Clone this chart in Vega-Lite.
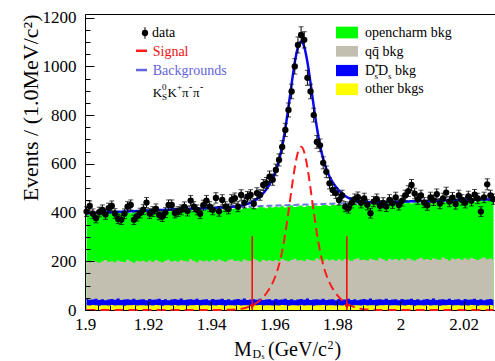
{
"$schema":"https://vega.github.io/schema/vega-lite/v6.json",
"width":412,"height":296,"autosize":"none",
"padding":{"left":85,"top":14,"right":0,"bottom":51},
"background":"white",
"config":{"view":{"stroke":"black","strokeWidth":1},"font":"Liberation Serif"},
"resolve":{"axis":{"x":"independent","y":"independent"}},
"data":{"values":[
{"m":1.9005,"n":404,"e":20.1,"oc":393,"qq":201,"ds":45,"ot":20,"b":397.0,"s":0,"f":397.0},
{"m":1.9015,"n":427,"e":20.7,"oc":391,"qq":196,"ds":42,"ot":18,"b":397.6,"s":0,"f":397.6},
{"m":1.9025,"n":395,"e":19.9,"oc":396,"qq":203,"ds":43,"ot":21,"b":398.2,"s":0,"f":398.2},
{"m":1.9035,"n":377,"e":19.4,"oc":390,"qq":198,"ds":46,"ot":19,"b":398.8,"s":0,"f":398.8},
{"m":1.9045,"n":402,"e":20.0,"oc":394,"qq":194,"ds":41,"ot":17,"b":399.4,"s":0,"f":399.4},
{"m":1.9055,"n":411,"e":20.3,"oc":399,"qq":200,"ds":44,"ot":20,"b":400.0,"s":0,"f":400.0},
{"m":1.9065,"n":392,"e":19.8,"oc":393,"qq":205,"ds":40,"ot":19,"b":400.6,"s":0,"f":400.6},
{"m":1.9075,"n":418,"e":20.4,"oc":395,"qq":198,"ds":43,"ot":18,"b":401.1,"s":0,"f":401.1},
{"m":1.9085,"n":427,"e":20.7,"oc":399,"qq":200,"ds":45,"ot":21,"b":401.7,"s":0,"f":401.7},
{"m":1.9095,"n":396,"e":19.9,"oc":392,"qq":196,"ds":42,"ot":18,"b":402.3,"s":0,"f":402.3},
{"m":1.9105,"n":374,"e":19.3,"oc":399,"qq":203,"ds":47,"ot":19,"b":402.9,"s":0,"f":402.9},
{"m":1.9115,"n":370,"e":19.2,"oc":397,"qq":199,"ds":41,"ot":20,"b":403.5,"s":0,"f":403.5},
{"m":1.9125,"n":395,"e":19.9,"oc":404,"qq":197,"ds":43,"ot":17,"b":404.0,"s":0,"f":404.0},
{"m":1.9135,"n":424,"e":20.6,"oc":399,"qq":206,"ds":44,"ot":20,"b":404.6,"s":0,"f":404.6},
{"m":1.9145,"n":431,"e":20.8,"oc":397,"qq":200,"ds":42,"ot":19,"b":405.2,"s":0,"f":405.2},
{"m":1.9155,"n":370,"e":19.2,"oc":403,"qq":194,"ds":46,"ot":21,"b":405.7,"s":0,"f":405.7},
{"m":1.9165,"n":385,"e":19.6,"oc":401,"qq":202,"ds":41,"ot":18,"b":406.3,"s":0,"f":406.3},
{"m":1.9175,"n":398,"e":19.9,"oc":398,"qq":199,"ds":43,"ot":19,"b":406.9,"s":0,"f":406.9},
{"m":1.9185,"n":412,"e":20.3,"oc":405,"qq":202,"ds":44,"ot":20,"b":407.4,"s":0,"f":407.4},
{"m":1.9195,"n":441,"e":21.0,"oc":401,"qq":197,"ds":40,"ot":18,"b":408.0,"s":0,"f":408.0},
{"m":1.9205,"n":396,"e":19.9,"oc":405,"qq":203,"ds":45,"ot":20,"b":408.5,"s":0,"f":408.5},
{"m":1.9215,"n":404,"e":20.1,"oc":402,"qq":198,"ds":42,"ot":18,"b":409.1,"s":0,"f":409.1},
{"m":1.9225,"n":415,"e":20.4,"oc":408,"qq":205,"ds":43,"ot":21,"b":409.6,"s":0,"f":409.6},
{"m":1.9235,"n":390,"e":19.7,"oc":401,"qq":200,"ds":46,"ot":19,"b":410.2,"s":0,"f":410.2},
{"m":1.9245,"n":383,"e":19.6,"oc":406,"qq":196,"ds":41,"ot":17,"b":410.7,"s":0,"f":410.7},
{"m":1.9255,"n":400,"e":20.0,"oc":410,"qq":202,"ds":44,"ot":20,"b":411.3,"s":0,"f":411.3},
{"m":1.9265,"n":431,"e":20.8,"oc":404,"qq":206,"ds":40,"ot":19,"b":411.8,"s":0,"f":411.8},
{"m":1.9275,"n":431,"e":20.8,"oc":406,"qq":199,"ds":43,"ot":18,"b":412.3,"s":0,"f":412.3},
{"m":1.9285,"n":398,"e":19.9,"oc":410,"qq":202,"ds":45,"ot":21,"b":412.9,"s":0,"f":412.9},
{"m":1.9295,"n":404,"e":20.1,"oc":403,"qq":198,"ds":42,"ot":18,"b":413.4,"s":0,"f":413.4},
{"m":1.9305,"n":411,"e":20.3,"oc":410,"qq":205,"ds":47,"ot":19,"b":413.9,"s":0,"f":413.9},
{"m":1.9315,"n":423,"e":20.6,"oc":408,"qq":201,"ds":41,"ot":20,"b":414.5,"s":0,"f":414.5},
{"m":1.9325,"n":406,"e":20.1,"oc":415,"qq":199,"ds":43,"ot":17,"b":415.0,"s":0,"f":415.0},
{"m":1.9335,"n":449,"e":21.2,"oc":410,"qq":208,"ds":44,"ot":20,"b":415.5,"s":0,"f":415.5},
{"m":1.9345,"n":424,"e":20.6,"oc":408,"qq":202,"ds":42,"ot":19,"b":416.0,"s":0,"f":416.0},
{"m":1.9355,"n":411,"e":20.3,"oc":414,"qq":196,"ds":46,"ot":21,"b":416.5,"s":0,"f":416.5},
{"m":1.9365,"n":395,"e":19.9,"oc":412,"qq":204,"ds":41,"ot":18,"b":417.0,"s":0,"f":417.0},
{"m":1.9375,"n":430,"e":20.7,"oc":409,"qq":200,"ds":43,"ot":19,"b":417.6,"s":0,"f":417.6},
{"m":1.9385,"n":449,"e":21.2,"oc":416,"qq":203,"ds":44,"ot":20,"b":418.1,"s":0,"f":418.1},
{"m":1.9395,"n":424,"e":20.6,"oc":412,"qq":199,"ds":40,"ot":18,"b":418.6,"s":0,"f":418.6},
{"m":1.9405,"n":411,"e":20.3,"oc":415,"qq":205,"ds":45,"ot":20,"b":419.1,"s":0,"f":419.1},
{"m":1.9415,"n":460,"e":21.4,"oc":413,"qq":200,"ds":42,"ot":18,"b":419.6,"s":0.1,"f":419.7},
{"m":1.9425,"n":405,"e":20.1,"oc":418,"qq":207,"ds":43,"ot":21,"b":420.1,"s":0.2,"f":420.3},
{"m":1.9435,"n":452,"e":21.3,"oc":412,"qq":202,"ds":46,"ot":19,"b":420.6,"s":0.3,"f":420.9},
{"m":1.9445,"n":424,"e":20.6,"oc":416,"qq":198,"ds":41,"ot":17,"b":421.1,"s":0.5,"f":421.6},
{"m":1.9455,"n":415,"e":20.4,"oc":421,"qq":204,"ds":44,"ot":20,"b":421.6,"s":0.8,"f":422.4},
{"m":1.9465,"n":452,"e":21.3,"oc":414,"qq":208,"ds":40,"ot":19,"b":422.1,"s":1.3,"f":423.4},
{"m":1.9475,"n":459,"e":21.4,"oc":417,"qq":201,"ds":43,"ot":18,"b":422.5,"s":2.1,"f":424.6},
{"m":1.9485,"n":424,"e":20.6,"oc":420,"qq":203,"ds":45,"ot":21,"b":423.0,"s":3.3,"f":426.3},
{"m":1.9495,"n":472,"e":21.7,"oc":414,"qq":199,"ds":42,"ot":18,"b":423.5,"s":5.0,"f":428.5},
{"m":1.9505,"n":440,"e":21.0,"oc":420,"qq":207,"ds":47,"ot":19,"b":424.0,"s":7.5,"f":431.5},
{"m":1.9515,"n":465,"e":21.6,"oc":418,"qq":203,"ds":41,"ot":20,"b":424.5,"s":11.0,"f":435.5},
{"m":1.9525,"n":472,"e":21.7,"oc":425,"qq":201,"ds":43,"ot":17,"b":425.0,"s":15.7,"f":440.7},
{"m":1.9535,"n":436,"e":20.9,"oc":419,"qq":210,"ds":44,"ot":20,"b":425.4,"s":21.9,"f":447.3},
{"m":1.9545,"n":480,"e":21.9,"oc":418,"qq":204,"ds":42,"ot":19,"b":425.9,"s":30.0,"f":455.9},
{"m":1.9555,"n":472,"e":21.7,"oc":423,"qq":198,"ds":46,"ot":21,"b":426.4,"s":40.3,"f":466.7},
{"m":1.9565,"n":513,"e":22.6,"oc":422,"qq":206,"ds":41,"ot":18,"b":426.8,"s":53.1,"f":479.9},
{"m":1.9575,"n":521,"e":22.8,"oc":418,"qq":202,"ds":43,"ot":19,"b":427.3,"s":68.7,"f":496.0},
{"m":1.9585,"n":547,"e":23.4,"oc":426,"qq":205,"ds":44,"ot":20,"b":427.8,"s":88.0,"f":515.8},
{"m":1.9595,"n":535,"e":23.1,"oc":421,"qq":200,"ds":40,"ot":18,"b":428.2,"s":112.1,"f":540.3},
{"m":1.9605,"n":575,"e":24.0,"oc":425,"qq":206,"ds":45,"ot":20,"b":428.7,"s":143.6,"f":572.3},
{"m":1.9615,"n":616,"e":24.8,"oc":422,"qq":201,"ds":42,"ot":18,"b":429.1,"s":185.6,"f":614.7},
{"m":1.9625,"n":669,"e":25.9,"oc":428,"qq":209,"ds":43,"ot":21,"b":429.6,"s":241.8,"f":671.4},
{"m":1.9635,"n":739,"e":27.2,"oc":421,"qq":204,"ds":46,"ot":19,"b":430.0,"s":314.7,"f":744.7},
{"m":1.9645,"n":821,"e":28.7,"oc":426,"qq":200,"ds":41,"ot":17,"b":430.5,"s":402.6,"f":833.1},
{"m":1.9655,"n":897,"e":29.9,"oc":430,"qq":206,"ds":44,"ot":20,"b":430.9,"s":497.4,"f":928.3},
{"m":1.9665,"n":1000,"e":31.6,"oc":423,"qq":210,"ds":40,"ot":19,"b":431.4,"s":584.9,"f":1016.3},
{"m":1.9675,"n":1088,"e":33.0,"oc":426,"qq":203,"ds":43,"ot":18,"b":431.8,"s":647.3,"f":1079.1},
{"m":1.9685,"n":1129,"e":33.6,"oc":429,"qq":205,"ds":45,"ot":21,"b":432.3,"s":670.0,"f":1102.3},
{"m":1.9695,"n":1109,"e":33.3,"oc":423,"qq":201,"ds":42,"ot":18,"b":432.7,"s":647.3,"f":1080.0},
{"m":1.9705,"n":953,"e":30.9,"oc":429,"qq":208,"ds":47,"ot":19,"b":433.1,"s":584.9,"f":1018.0},
{"m":1.9715,"n":897,"e":29.9,"oc":427,"qq":204,"ds":41,"ot":20,"b":433.6,"s":497.4,"f":931.0},
{"m":1.9725,"n":800,"e":28.3,"oc":434,"qq":203,"ds":43,"ot":17,"b":434.0,"s":402.6,"f":836.6},
{"m":1.9735,"n":690,"e":26.3,"oc":428,"qq":212,"ds":44,"ot":20,"b":434.4,"s":314.7,"f":749.1},
{"m":1.9745,"n":676,"e":26.0,"oc":427,"qq":206,"ds":42,"ot":19,"b":434.8,"s":241.8,"f":676.6},
{"m":1.9755,"n":604,"e":24.6,"oc":432,"qq":200,"ds":46,"ot":21,"b":435.3,"s":185.6,"f":620.9},
{"m":1.9765,"n":567,"e":23.8,"oc":431,"qq":208,"ds":41,"ot":18,"b":435.7,"s":143.6,"f":579.3},
{"m":1.9775,"n":520,"e":22.8,"oc":427,"qq":204,"ds":43,"ot":19,"b":436.1,"s":112.1,"f":548.2},
{"m":1.9785,"n":493,"e":22.2,"oc":435,"qq":207,"ds":44,"ot":20,"b":436.5,"s":88.0,"f":524.5},
{"m":1.9795,"n":480,"e":21.9,"oc":430,"qq":202,"ds":40,"ot":18,"b":436.9,"s":68.7,"f":505.6},
{"m":1.9805,"n":452,"e":21.3,"oc":433,"qq":208,"ds":45,"ot":20,"b":437.3,"s":53.1,"f":490.4},
{"m":1.9815,"n":470,"e":21.7,"oc":431,"qq":203,"ds":42,"ot":18,"b":437.7,"s":40.3,"f":478.0},
{"m":1.9825,"n":424,"e":20.6,"oc":438,"qq":210,"ds":43,"ot":21,"b":438.1,"s":30.0,"f":468.1},
{"m":1.9835,"n":418,"e":20.4,"oc":432,"qq":206,"ds":46,"ot":19,"b":438.5,"s":21.9,"f":460.4},
{"m":1.9845,"n":440,"e":21.0,"oc":431,"qq":202,"ds":41,"ot":17,"b":438.9,"s":15.7,"f":454.6},
{"m":1.9855,"n":455,"e":21.3,"oc":438,"qq":208,"ds":44,"ot":20,"b":439.3,"s":11.0,"f":450.3},
{"m":1.9865,"n":463,"e":21.5,"oc":432,"qq":212,"ds":40,"ot":19,"b":439.7,"s":7.5,"f":447.2},
{"m":1.9875,"n":440,"e":21.0,"oc":434,"qq":205,"ds":43,"ot":18,"b":440.1,"s":5.0,"f":445.1},
{"m":1.9885,"n":458,"e":21.4,"oc":438,"qq":207,"ds":45,"ot":21,"b":440.5,"s":3.3,"f":443.8},
{"m":1.9895,"n":432,"e":20.8,"oc":431,"qq":203,"ds":42,"ot":18,"b":440.9,"s":2.1,"f":443.0},
{"m":1.9905,"n":397,"e":19.9,"oc":437,"qq":210,"ds":47,"ot":19,"b":441.3,"s":1.3,"f":442.6},
{"m":1.9915,"n":445,"e":21.1,"oc":435,"qq":206,"ds":41,"ot":20,"b":441.7,"s":0.8,"f":442.5},
{"m":1.9925,"n":455,"e":21.3,"oc":442,"qq":204,"ds":43,"ot":17,"b":442.0,"s":0.5,"f":442.5},
{"m":1.9935,"n":428,"e":20.7,"oc":436,"qq":213,"ds":44,"ot":20,"b":442.4,"s":0.3,"f":442.7},
{"m":1.9945,"n":440,"e":21.0,"oc":435,"qq":208,"ds":42,"ot":19,"b":442.8,"s":0.2,"f":443.0},
{"m":1.9955,"n":425,"e":20.6,"oc":440,"qq":202,"ds":46,"ot":21,"b":443.2,"s":0.1,"f":443.3},
{"m":1.9965,"n":452,"e":21.3,"oc":439,"qq":210,"ds":41,"ot":18,"b":443.5,"s":0,"f":443.5},
{"m":1.9975,"n":438,"e":20.9,"oc":435,"qq":206,"ds":43,"ot":19,"b":443.9,"s":0,"f":443.9},
{"m":1.9985,"n":462,"e":21.5,"oc":442,"qq":209,"ds":44,"ot":20,"b":444.3,"s":0,"f":444.3},
{"m":1.9995,"n":431,"e":20.8,"oc":438,"qq":204,"ds":40,"ot":18,"b":444.6,"s":0,"f":444.6},
{"m":2.0005,"n":448,"e":21.2,"oc":441,"qq":210,"ds":45,"ot":20,"b":445.0,"s":0,"f":445.0},
{"m":2.0015,"n":470,"e":21.7,"oc":438,"qq":205,"ds":42,"ot":18,"b":445.4,"s":0,"f":445.4},
{"m":2.0025,"n":488,"e":22.1,"oc":444,"qq":212,"ds":43,"ot":21,"b":445.7,"s":0,"f":445.7},
{"m":2.0035,"n":513,"e":22.6,"oc":437,"qq":207,"ds":46,"ot":19,"b":446.1,"s":0,"f":446.1},
{"m":2.0045,"n":478,"e":21.9,"oc":441,"qq":203,"ds":41,"ot":17,"b":446.4,"s":0,"f":446.4},
{"m":2.0055,"n":455,"e":21.3,"oc":446,"qq":209,"ds":44,"ot":20,"b":446.8,"s":0,"f":446.8},
{"m":2.0065,"n":470,"e":21.7,"oc":439,"qq":214,"ds":40,"ot":19,"b":447.1,"s":0,"f":447.1},
{"m":2.0075,"n":441,"e":21.0,"oc":442,"qq":207,"ds":43,"ot":18,"b":447.5,"s":0,"f":447.5},
{"m":2.0085,"n":430,"e":20.7,"oc":445,"qq":209,"ds":45,"ot":21,"b":447.8,"s":0,"f":447.8},
{"m":2.0095,"n":462,"e":21.5,"oc":438,"qq":205,"ds":42,"ot":18,"b":448.1,"s":0,"f":448.1},
{"m":2.0105,"n":450,"e":21.2,"oc":445,"qq":212,"ds":47,"ot":19,"b":448.5,"s":0,"f":448.5},
{"m":2.0115,"n":475,"e":21.8,"oc":442,"qq":208,"ds":41,"ot":20,"b":448.8,"s":0,"f":448.8},
{"m":2.0125,"n":437,"e":20.9,"oc":449,"qq":206,"ds":43,"ot":17,"b":449.1,"s":0,"f":449.1},
{"m":2.0135,"n":458,"e":21.4,"oc":444,"qq":215,"ds":44,"ot":20,"b":449.5,"s":0,"f":449.5},
{"m":2.0145,"n":482,"e":22.0,"oc":442,"qq":209,"ds":42,"ot":19,"b":449.8,"s":0,"f":449.8},
{"m":2.0155,"n":445,"e":21.1,"oc":447,"qq":203,"ds":46,"ot":21,"b":450.1,"s":0,"f":450.1},
{"m":2.0165,"n":461,"e":21.5,"oc":446,"qq":211,"ds":41,"ot":18,"b":450.5,"s":0,"f":450.5},
{"m":2.0175,"n":435,"e":20.9,"oc":442,"qq":208,"ds":43,"ot":19,"b":450.8,"s":0,"f":450.8},
{"m":2.0185,"n":470,"e":21.7,"oc":449,"qq":211,"ds":44,"ot":20,"b":451.1,"s":0,"f":451.1},
{"m":2.0195,"n":452,"e":21.3,"oc":444,"qq":206,"ds":40,"ot":18,"b":451.4,"s":0,"f":451.4},
{"m":2.0205,"n":440,"e":21.0,"oc":448,"qq":212,"ds":45,"ot":20,"b":451.7,"s":0,"f":451.7},
{"m":2.0215,"n":466,"e":21.6,"oc":445,"qq":207,"ds":42,"ot":18,"b":452.0,"s":0,"f":452.0},
{"m":2.0225,"n":448,"e":21.2,"oc":450,"qq":214,"ds":43,"ot":21,"b":452.3,"s":0,"f":452.3},
{"m":2.0235,"n":473,"e":21.7,"oc":444,"qq":209,"ds":46,"ot":19,"b":452.6,"s":0,"f":452.6},
{"m":2.0245,"n":458,"e":21.4,"oc":448,"qq":205,"ds":41,"ot":17,"b":453.0,"s":0,"f":453.0},
{"m":2.0255,"n":404,"e":20.1,"oc":452,"qq":211,"ds":44,"ot":20,"b":453.3,"s":0,"f":453.3},
{"m":2.0265,"n":462,"e":21.5,"oc":446,"qq":215,"ds":40,"ot":19,"b":453.6,"s":0,"f":453.6},
{"m":2.0275,"n":516,"e":22.7,"oc":448,"qq":208,"ds":43,"ot":18,"b":453.9,"s":0,"f":453.9},
{"m":2.0285,"n":470,"e":21.7,"oc":451,"qq":211,"ds":45,"ot":21,"b":454.1,"s":0,"f":454.1},
{"m":2.0295,"n":455,"e":21.3,"oc":444,"qq":207,"ds":42,"ot":18,"b":454.4,"s":0,"f":454.4}
]},
"layer":[
{"mark":{"type":"area","interpolate":"step","color":"#00ff00"},
 "encoding":{
  "x":{"field":"m","type":"quantitative","scale":{"domain":[1.9,2.0306],"nice":false,"zero":false},
   "axis":{"orient":"bottom","values":[1.9,1.92,1.94,1.96,1.98,2,2.02],"format":"~g","labelFont":"Liberation Serif","labelFontSize":17,"labelColor":"black","labelPadding":15,"tickSize":-9,"tickColor":"black","tickWidth":1,"domain":false,"grid":false,"title":null,"labelFlush":false,"labelOverlap":false,"zindex":1}},
  "y":{"field":"oc","type":"quantitative","stack":null,"scale":{"domain":[0,1215],"nice":false,"zero":false},
   "axis":{"orient":"left","values":[0,200,400,600,800,1000,1200],"format":"d","labelFont":"Liberation Serif","labelFontSize":17,"labelColor":"black","labelPadding":18,"tickSize":-9,"tickColor":"black","tickWidth":1,"domain":false,"grid":false,"labelFlush":false,"labelOverlap":false,"zindex":1,
    "title":"Events / (1.0MeV/c²)","titleFont":"Liberation Serif","titleFontSize":22,"titleFontWeight":"normal","titleColor":"black","titleAngle":-90,"titleAlign":"right","titleBaseline":"middle","titleX":-55,"titleY":0}}}},
{"mark":{"type":"area","interpolate":"step","color":"#c3bfb0"},
 "encoding":{
  "x":{"field":"m","type":"quantitative","scale":{"domain":[1.9,2.0306],"nice":false,"zero":false},
   "axis":{"orient":"bottom","values":[1.904,1.908,1.912,1.916,1.924,1.928,1.932,1.936,1.944,1.948,1.952,1.956,1.964,1.968,1.972,1.976,1.984,1.988,1.992,1.996,2.004,2.008,2.012,2.016,2.024,2.028],"labels":false,"tickSize":-5,"tickColor":"black","tickWidth":1,"domain":false,"grid":false,"title":null,"zindex":1}},
  "y":{"field":"qq","type":"quantitative","stack":null,"scale":{"domain":[0,1215],"nice":false,"zero":false},
   "axis":{"orient":"left","values":[50,100,150,250,300,350,450,500,550,650,700,750,850,900,950,1050,1100,1150],"labels":false,"tickSize":-5,"tickColor":"black","tickWidth":1,"domain":false,"grid":false,"title":null,"zindex":1}}}},
{"mark":{"type":"area","interpolate":"step","color":"#0000ff"},
 "encoding":{
  "x":{"field":"m","type":"quantitative","scale":{"domain":[1.9,2.0306],"nice":false,"zero":false},"axis":null},
  "y":{"field":"ds","type":"quantitative","stack":null,"scale":{"domain":[0,1215],"nice":false,"zero":false},"axis":null}}},
{"mark":{"type":"area","interpolate":"step","color":"#ffff00"},
 "encoding":{
  "x":{"field":"m","type":"quantitative","scale":{"domain":[1.9,2.0306],"nice":false,"zero":false},"axis":null},
  "y":{"field":"ot","type":"quantitative","stack":null,"scale":{"domain":[0,1215],"nice":false,"zero":false},"axis":null}}},
{"mark":{"type":"line","interpolate":"monotone","color":"#6c78dc","strokeWidth":2,"strokeDash":[6,3]},
 "encoding":{
  "x":{"field":"m","type":"quantitative","scale":{"domain":[1.9,2.0306],"nice":false,"zero":false},"axis":null},
  "y":{"field":"b","type":"quantitative","scale":{"domain":[0,1215],"nice":false,"zero":false},"axis":null}}},
{"mark":{"type":"line","interpolate":"monotone","color":"#ff1a1a","strokeWidth":2,"strokeDash":[9,5]},
 "encoding":{
  "x":{"field":"m","type":"quantitative","scale":{"domain":[1.9,2.0306],"nice":false,"zero":false},"axis":null},
  "y":{"field":"s","type":"quantitative","scale":{"domain":[0,1215],"nice":false,"zero":false},"axis":null}}},
{"mark":{"type":"line","interpolate":"monotone","color":"#0a0af0","strokeWidth":2.5},
 "encoding":{
  "x":{"field":"m","type":"quantitative","scale":{"domain":[1.9,2.0306],"nice":false,"zero":false},"axis":null},
  "y":{"field":"f","type":"quantitative","scale":{"domain":[0,1215],"nice":false,"zero":false},"axis":null}}},
{"data":{"values":[{"cut":1.953},{"cut":1.983}]},
 "mark":{"type":"rule","color":"#ff0000","strokeWidth":1.5},
 "encoding":{
  "x":{"field":"cut","type":"quantitative","scale":{"domain":[1.9,2.0306],"nice":false,"zero":false},"axis":null},
  "y":{"datum":0,"type":"quantitative","scale":{"domain":[0,1215],"nice":false,"zero":false},"axis":null},
  "y2":{"datum":303}}},
{"data":{"values":[{"cut":1.953},{"cut":1.983}]},
 "mark":{"type":"point","shape":"triangle-down","filled":true,"color":"#ff0000","opacity":1,"size":28},
 "encoding":{
  "x":{"field":"cut","type":"quantitative","scale":{"domain":[1.9,2.0306],"nice":false,"zero":false},"axis":null},
  "y":{"datum":14,"type":"quantitative","scale":{"domain":[0,1215],"nice":false,"zero":false},"axis":null}}},
{"mark":{"type":"errorbar","ticks":true,"color":"black","thickness":1,"size":5},
 "encoding":{
  "x":{"field":"m","type":"quantitative","scale":{"domain":[1.9,2.0306],"nice":false,"zero":false},"axis":null},
  "y":{"field":"n","type":"quantitative","scale":{"domain":[0,1215],"nice":false,"zero":false},"axis":null},
  "yError":{"field":"e"}}},
{"mark":{"type":"point","filled":true,"color":"black","opacity":1,"size":40},
 "encoding":{
  "x":{"field":"m","type":"quantitative","scale":{"domain":[1.9,2.0306],"nice":false,"zero":false},"axis":null},
  "y":{"field":"n","type":"quantitative","scale":{"domain":[0,1215],"nice":false,"zero":false},"axis":null}}},
{"data":{"values":[{}]},"mark":{"type":"rule","color":"black","strokeWidth":1},
 "encoding":{"x":{"datum":1.91902,"type":"quantitative","scale":{"domain":[1.9,2.0306],"nice":false,"zero":false},"axis":null},
  "y":{"datum":1113,"type":"quantitative","scale":{"domain":[0,1215],"nice":false,"zero":false},"axis":null},"y2":{"datum":1161}}},
{"data":{"values":[{}]},"mark":{"type":"point","filled":true,"color":"black","opacity":1,"size":40},
 "encoding":{"x":{"datum":1.91902,"type":"quantitative","scale":{"domain":[1.9,2.0306],"nice":false,"zero":false},"axis":null},
  "y":{"datum":1137,"type":"quantitative","scale":{"domain":[0,1215],"nice":false,"zero":false},"axis":null}}},
{"data":{"values":[{}]},"mark":{"type":"rule","color":"#ff1a1a","strokeWidth":2.5},
 "encoding":{"x":{"datum":1.91617,"type":"quantitative","scale":{"domain":[1.9,2.0306],"nice":false,"zero":false},"axis":null},"x2":{"datum":1.91965},
  "y":{"datum":1064,"type":"quantitative","scale":{"domain":[0,1215],"nice":false,"zero":false},"axis":null}}},
{"data":{"values":[{}]},"mark":{"type":"rule","color":"#6464dc","strokeWidth":2.5},
 "encoding":{"x":{"datum":1.91617,"type":"quantitative","scale":{"domain":[1.9,2.0306],"nice":false,"zero":false},"axis":null},"x2":{"datum":1.91965},
  "y":{"datum":985,"type":"quantitative","scale":{"domain":[0,1215],"nice":false,"zero":false},"axis":null}}},
{"data":{"values":[{}]},"mark":{"type":"text","text":"data","font":"Liberation Serif","fontSize":14,"align":"left","baseline":"alphabetic","color":"black"},
 "encoding":{"x":{"datum":1.92124,"type":"quantitative","scale":{"domain":[1.9,2.0306],"nice":false,"zero":false},"axis":null},
  "y":{"datum":1120,"type":"quantitative","scale":{"domain":[0,1215],"nice":false,"zero":false},"axis":null}}},
{"data":{"values":[{}]},"mark":{"type":"text","text":"Signal","font":"Liberation Serif","fontSize":14,"align":"left","baseline":"alphabetic","color":"#ee1111"},
 "encoding":{"x":{"datum":1.92146,"type":"quantitative","scale":{"domain":[1.9,2.0306],"nice":false,"zero":false},"axis":null},
  "y":{"datum":1043,"type":"quantitative","scale":{"domain":[0,1215],"nice":false,"zero":false},"axis":null}}},
{"data":{"values":[{}]},"mark":{"type":"text","text":"Backgrounds","font":"Liberation Serif","fontSize":14,"align":"left","baseline":"alphabetic","color":"#6464dc"},
 "encoding":{"x":{"datum":1.92146,"type":"quantitative","scale":{"domain":[1.9,2.0306],"nice":false,"zero":false},"axis":null},
  "y":{"datum":964,"type":"quantitative","scale":{"domain":[0,1215],"nice":false,"zero":false},"axis":null}}},
{"data":{"values":[{}]},"mark":{"type":"text","text":"K","font":"Liberation Serif","fontSize":13,"align":"left","baseline":"alphabetic","color":"black"},
 "encoding":{"x":{"datum":1.92146,"type":"quantitative","scale":{"domain":[1.9,2.0306],"nice":false,"zero":false},"axis":null},
  "y":{"datum":876,"type":"quantitative","scale":{"domain":[0,1215],"nice":false,"zero":false},"axis":null}}},
{"data":{"values":[{}]},"mark":{"type":"text","text":"0","font":"Liberation Serif","fontSize":9,"align":"left","baseline":"alphabetic","color":"black"},
 "encoding":{"x":{"datum":1.92444,"type":"quantitative","scale":{"domain":[1.9,2.0306],"nice":false,"zero":false},"axis":null},
  "y":{"datum":903,"type":"quantitative","scale":{"domain":[0,1215],"nice":false,"zero":false},"axis":null}}},
{"data":{"values":[{}]},"mark":{"type":"text","text":"S","font":"Liberation Serif","fontSize":9,"align":"left","baseline":"alphabetic","color":"black"},
 "encoding":{"x":{"datum":1.92444,"type":"quantitative","scale":{"domain":[1.9,2.0306],"nice":false,"zero":false},"axis":null},
  "y":{"datum":864,"type":"quantitative","scale":{"domain":[0,1215],"nice":false,"zero":false},"axis":null}}},
{"data":{"values":[{}]},"mark":{"type":"text","text":"K","font":"Liberation Serif","fontSize":13,"align":"left","baseline":"alphabetic","color":"black"},
 "encoding":{"x":{"datum":1.92615,"type":"quantitative","scale":{"domain":[1.9,2.0306],"nice":false,"zero":false},"axis":null},
  "y":{"datum":876,"type":"quantitative","scale":{"domain":[0,1215],"nice":false,"zero":false},"axis":null}}},
{"data":{"values":[{}]},"mark":{"type":"text","text":"+","font":"Liberation Serif","fontSize":9,"align":"left","baseline":"alphabetic","color":"black"},
 "encoding":{"x":{"datum":1.92917,"type":"quantitative","scale":{"domain":[1.9,2.0306],"nice":false,"zero":false},"axis":null},
  "y":{"datum":903,"type":"quantitative","scale":{"domain":[0,1215],"nice":false,"zero":false},"axis":null}}},
{"data":{"values":[{}]},"mark":{"type":"text","text":"π","font":"Liberation Serif","fontSize":13,"align":"left","baseline":"alphabetic","color":"black"},
 "encoding":{"x":{"datum":1.93076,"type":"quantitative","scale":{"domain":[1.9,2.0306],"nice":false,"zero":false},"axis":null},
  "y":{"datum":876,"type":"quantitative","scale":{"domain":[0,1215],"nice":false,"zero":false},"axis":null}}},
{"data":{"values":[{}]},"mark":{"type":"text","text":"-","font":"Liberation Serif","fontSize":10,"align":"left","baseline":"alphabetic","color":"black"},
 "encoding":{"x":{"datum":1.93298,"type":"quantitative","scale":{"domain":[1.9,2.0306],"nice":false,"zero":false},"axis":null},
  "y":{"datum":903,"type":"quantitative","scale":{"domain":[0,1215],"nice":false,"zero":false},"axis":null}}},
{"data":{"values":[{}]},"mark":{"type":"text","text":"π","font":"Liberation Serif","fontSize":13,"align":"left","baseline":"alphabetic","color":"black"},
 "encoding":{"x":{"datum":1.93425,"type":"quantitative","scale":{"domain":[1.9,2.0306],"nice":false,"zero":false},"axis":null},
  "y":{"datum":876,"type":"quantitative","scale":{"domain":[0,1215],"nice":false,"zero":false},"axis":null}}},
{"data":{"values":[{}]},"mark":{"type":"text","text":"-","font":"Liberation Serif","fontSize":10,"align":"left","baseline":"alphabetic","color":"black"},
 "encoding":{"x":{"datum":1.93647,"type":"quantitative","scale":{"domain":[1.9,2.0306],"nice":false,"zero":false},"axis":null},
  "y":{"datum":903,"type":"quantitative","scale":{"domain":[0,1215],"nice":false,"zero":false},"axis":null}}},
{"data":{"values":[{}]},"mark":{"type":"rect","color":"#00ff00"},
 "encoding":{"x":{"datum":1.979565,"type":"quantitative","scale":{"domain":[1.9,2.0306],"nice":false,"zero":false},"axis":null},"x2":{"datum":1.986539},
  "y":{"datum":1115,"type":"quantitative","scale":{"domain":[0,1215],"nice":false,"zero":false},"axis":null},"y2":{"datum":1163}}},
{"data":{"values":[{}]},"mark":{"type":"rect","color":"#c3bfb0"},
 "encoding":{"x":{"datum":1.979565,"type":"quantitative","scale":{"domain":[1.9,2.0306],"nice":false,"zero":false},"axis":null},"x2":{"datum":1.986539},
  "y":{"datum":1040,"type":"quantitative","scale":{"domain":[0,1215],"nice":false,"zero":false},"axis":null},"y2":{"datum":1084}}},
{"data":{"values":[{}]},"mark":{"type":"rect","color":"#0000ff"},
 "encoding":{"x":{"datum":1.979565,"type":"quantitative","scale":{"domain":[1.9,2.0306],"nice":false,"zero":false},"axis":null},"x2":{"datum":1.986539},
  "y":{"datum":960,"type":"quantitative","scale":{"domain":[0,1215],"nice":false,"zero":false},"axis":null},"y2":{"datum":1006}}},
{"data":{"values":[{}]},"mark":{"type":"rect","color":"#ffff00"},
 "encoding":{"x":{"datum":1.979565,"type":"quantitative","scale":{"domain":[1.9,2.0306],"nice":false,"zero":false},"axis":null},"x2":{"datum":1.986539},
  "y":{"datum":882,"type":"quantitative","scale":{"domain":[0,1215],"nice":false,"zero":false},"axis":null},"y2":{"datum":930}}},
{"data":{"values":[{}]},"mark":{"type":"text","text":"opencharm bkg","font":"Liberation Serif","fontSize":14,"align":"left","baseline":"alphabetic","color":"black"},
 "encoding":{"x":{"datum":1.988759,"type":"quantitative","scale":{"domain":[1.9,2.0306],"nice":false,"zero":false},"axis":null},
  "y":{"datum":1120,"type":"quantitative","scale":{"domain":[0,1215],"nice":false,"zero":false},"axis":null}}},
{"data":{"values":[{}]},"mark":{"type":"text","text":"qq̄ bkg","font":"Liberation Serif","fontSize":14,"align":"left","baseline":"alphabetic","color":"black"},
 "encoding":{"x":{"datum":1.988759,"type":"quantitative","scale":{"domain":[1.9,2.0306],"nice":false,"zero":false},"axis":null},
  "y":{"datum":1043,"type":"quantitative","scale":{"domain":[0,1215],"nice":false,"zero":false},"axis":null}}},
{"data":{"values":[{}]},"mark":{"type":"text","text":"D","font":"Liberation Serif","fontSize":14,"align":"left","baseline":"alphabetic","color":"black"},
 "encoding":{"x":{"datum":1.988759,"type":"quantitative","scale":{"domain":[1.9,2.0306],"nice":false,"zero":false},"axis":null},
  "y":{"datum":963,"type":"quantitative","scale":{"domain":[0,1215],"nice":false,"zero":false},"axis":null}}},
{"data":{"values":[{}]},"mark":{"type":"text","text":"*","font":"Liberation Serif","fontSize":9,"align":"left","baseline":"alphabetic","color":"black"},
 "encoding":{"x":{"datum":1.99177,"type":"quantitative","scale":{"domain":[1.9,2.0306],"nice":false,"zero":false},"axis":null},
  "y":{"datum":985,"type":"quantitative","scale":{"domain":[0,1215],"nice":false,"zero":false},"axis":null}}},
{"data":{"values":[{}]},"mark":{"type":"text","text":"s","font":"Liberation Serif","fontSize":9,"align":"left","baseline":"alphabetic","color":"black"},
 "encoding":{"x":{"datum":1.99177,"type":"quantitative","scale":{"domain":[1.9,2.0306],"nice":false,"zero":false},"axis":null},
  "y":{"datum":950,"type":"quantitative","scale":{"domain":[0,1215],"nice":false,"zero":false},"axis":null}}},
{"data":{"values":[{}]},"mark":{"type":"text","text":"D","font":"Liberation Serif","fontSize":14,"align":"left","baseline":"alphabetic","color":"black"},
 "encoding":{"x":{"datum":1.992879,"type":"quantitative","scale":{"domain":[1.9,2.0306],"nice":false,"zero":false},"axis":null},
  "y":{"datum":963,"type":"quantitative","scale":{"domain":[0,1215],"nice":false,"zero":false},"axis":null}}},
{"data":{"values":[{}]},"mark":{"type":"text","text":"s","font":"Liberation Serif","fontSize":9,"align":"left","baseline":"alphabetic","color":"black"},
 "encoding":{"x":{"datum":1.996049,"type":"quantitative","scale":{"domain":[1.9,2.0306],"nice":false,"zero":false},"axis":null},
  "y":{"datum":950,"type":"quantitative","scale":{"domain":[0,1215],"nice":false,"zero":false},"axis":null}}},
{"data":{"values":[{}]},"mark":{"type":"text","text":"bkg","font":"Liberation Serif","fontSize":14,"align":"left","baseline":"alphabetic","color":"black"},
 "encoding":{"x":{"datum":1.998267,"type":"quantitative","scale":{"domain":[1.9,2.0306],"nice":false,"zero":false},"axis":null},
  "y":{"datum":963,"type":"quantitative","scale":{"domain":[0,1215],"nice":false,"zero":false},"axis":null}}},
{"data":{"values":[{}]},"mark":{"type":"text","text":"other bkgs","font":"Liberation Serif","fontSize":14,"align":"left","baseline":"alphabetic","color":"black"},
 "encoding":{"x":{"datum":1.988759,"type":"quantitative","scale":{"domain":[1.9,2.0306],"nice":false,"zero":false},"axis":null},
  "y":{"datum":889,"type":"quantitative","scale":{"domain":[0,1215],"nice":false,"zero":false},"axis":null}}},
{"data":{"values":[{}]},"mark":{"type":"text","text":"M","font":"Liberation Serif","fontSize":20,"align":"left","baseline":"alphabetic","color":"black"},
 "encoding":{"x":{"datum":1.947232,"type":"quantitative","scale":{"domain":[1.9,2.0306],"nice":false,"zero":false},"axis":null},
  "y":{"datum":-189,"type":"quantitative","scale":{"domain":[0,1215],"nice":false,"zero":false},"axis":null}}},
{"data":{"values":[{}]},"mark":{"type":"text","text":"D","font":"Liberation Serif","fontSize":12,"align":"left","baseline":"alphabetic","color":"black"},
 "encoding":{"x":{"datum":1.953096,"type":"quantitative","scale":{"domain":[1.9,2.0306],"nice":false,"zero":false},"axis":null},
  "y":{"datum":-197,"type":"quantitative","scale":{"domain":[0,1215],"nice":false,"zero":false},"axis":null}}},
{"data":{"values":[{}]},"mark":{"type":"text","text":"-","font":"Liberation Serif","fontSize":9,"align":"left","baseline":"alphabetic","color":"black"},
 "encoding":{"x":{"datum":1.955949,"type":"quantitative","scale":{"domain":[1.9,2.0306],"nice":false,"zero":false},"axis":null},
  "y":{"datum":-160,"type":"quantitative","scale":{"domain":[0,1215],"nice":false,"zero":false},"axis":null}}},
{"data":{"values":[{}]},"mark":{"type":"text","text":"s","font":"Liberation Serif","fontSize":8,"align":"left","baseline":"alphabetic","color":"black"},
 "encoding":{"x":{"datum":1.955949,"type":"quantitative","scale":{"domain":[1.9,2.0306],"nice":false,"zero":false},"axis":null},
  "y":{"datum":-203,"type":"quantitative","scale":{"domain":[0,1215],"nice":false,"zero":false},"axis":null}}},
{"data":{"values":[{}]},"mark":{"type":"text","text":"(GeV/c","font":"Liberation Serif","fontSize":20,"align":"left","baseline":"alphabetic","color":"black"},
 "encoding":{"x":{"datum":1.95801,"type":"quantitative","scale":{"domain":[1.9,2.0306],"nice":false,"zero":false},"axis":null},
  "y":{"datum":-189,"type":"quantitative","scale":{"domain":[0,1215],"nice":false,"zero":false},"axis":null}}},
{"data":{"values":[{}]},"mark":{"type":"text","text":"2","font":"Liberation Serif","fontSize":12,"align":"left","baseline":"alphabetic","color":"black"},
 "encoding":{"x":{"datum":1.976871,"type":"quantitative","scale":{"domain":[1.9,2.0306],"nice":false,"zero":false},"axis":null},
  "y":{"datum":-160,"type":"quantitative","scale":{"domain":[0,1215],"nice":false,"zero":false},"axis":null}}},
{"data":{"values":[{}]},"mark":{"type":"text","text":")","font":"Liberation Serif","fontSize":20,"align":"left","baseline":"alphabetic","color":"black"},
 "encoding":{"x":{"datum":1.97909,"type":"quantitative","scale":{"domain":[1.9,2.0306],"nice":false,"zero":false},"axis":null},
  "y":{"datum":-189,"type":"quantitative","scale":{"domain":[0,1215],"nice":false,"zero":false},"axis":null}}}
]
}
